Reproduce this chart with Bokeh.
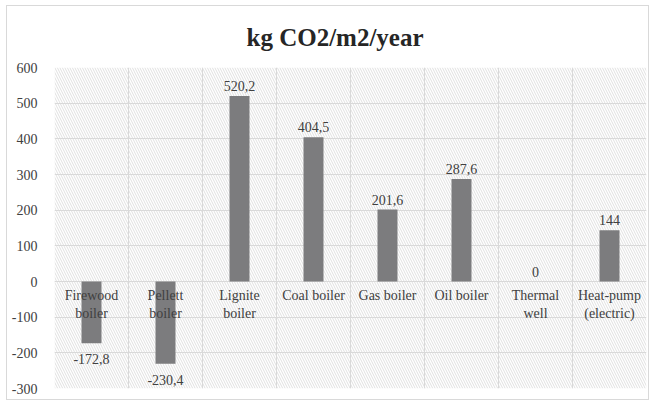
from bokeh.plotting import figure
from bokeh.models import Range1d, FixedTicker, BoxAnnotation, ColumnDataSource
from bokeh.core.properties import value
from bokeh.embed import file_html
from bokeh.resources import INLINE

title = "kg CO2/m2/year"
categories = ["Firewood\nboiler", "Pellett\nboiler", "Lignite\nboiler", "Coal boiler",
              "Gas boiler", "Oil boiler", "Thermal\nwell", "Heat-pump\n(electric)"]
values = [-172.8, -230.4, 520.2, 404.5, 201.6, 287.6, 0, 144]
y_ticks = [-300, -200, -100, 0, 100, 200, 300, 400, 500, 600]


def fmt(v):
    if float(v).is_integer():
        return str(int(v))
    return f"{v:.1f}".replace(".", ",")


FONT = "'Liberation Serif', 'Times New Roman', serif"
TXT = "#404040"

n = len(categories)
xs = [i + 0.5 for i in range(n)]

p = figure(width=643, height=395, output_backend="svg", toolbar_location=None,
           x_range=Range1d(0, n), y_range=Range1d(y_ticks[0], y_ticks[-1]),
           min_border_left=47, min_border_right=4, min_border_top=61, min_border_bottom=13)
p.styles = {"border": "1px solid #d9d9d9", "margin-left": "6px", "margin-top": "5px"}

p.title.text = title
p.title.text_font = FONT
p.title.text_font_size = "25px"
p.title.text_font_style = "bold"
p.title.text_color = "#262626"
p.title.align = "left"
p.title.offset = 192
p.title.vertical_align = "top"
p.title.standoff = 29
p.title.text_line_height = 0.85

p.outline_line_color = None
p.xaxis.visible = False
yax = p.yaxis[0]
yax.ticker = FixedTicker(ticks=y_ticks)
yax.major_label_overrides = {t: str(t) for t in y_ticks}
yax.axis_line_color = None
yax.major_tick_line_color = None
yax.minor_tick_line_color = None
yax.major_label_standoff = 11
yax.major_label_text_font = FONT
yax.major_label_text_font_size = "14px"
yax.major_label_text_color = TXT

p.xgrid.ticker = FixedTicker(ticks=list(range(n + 1)))
p.ygrid.ticker = FixedTicker(ticks=y_ticks)
for g in (p.xgrid[0], p.ygrid[0]):
    g.grid_line_color = "#d9d9d9"
    g.grid_line_width = 1

hatch = BoxAnnotation(left=0, right=n, bottom=y_ticks[0], top=y_ticks[-1],
                      fill_alpha=0, line_color=None, hatch_pattern="\\",
                      hatch_color="#e0e0e0", hatch_scale=5, hatch_weight=1, level="image")
p.add_layout(hatch)

src = ColumnDataSource(dict(x=xs, top=values, cat=categories,
                            lab=[fmt(v) for v in values]))
p.vbar(x="x", top="top", bottom=0, width=0.27, source=src,
       fill_color="#7c7c7e", line_color=None)

pos = ColumnDataSource(dict(x=[x for x, v in zip(xs, values) if v >= 0],
                            y=[v for v in values if v >= 0],
                            t=[fmt(v) for v in values if v >= 0]))
neg = ColumnDataSource(dict(x=[x for x, v in zip(xs, values) if v < 0],
                            y=[v for v in values if v < 0],
                            t=[fmt(v) for v in values if v < 0]))
p.text(x="x", y="y", text="t", source=pos, text_align="center", text_baseline="alphabetic",
       y_offset=-10, text_font=value(FONT), text_font_size="14px", text_color=TXT)
p.text(x="x", y="y", text="t", source=neg, text_align="center", text_baseline="top",
       y_offset=11, text_font=value(FONT), text_font_size="14px", text_color=TXT)

p.text(x="x", y=0, text="cat", source=src, text_align="center", text_baseline="top",
       y_offset=6, text_font=value(FONT), text_font_size="14px", text_color=TXT,
       text_line_height=1.2)

open("out.html", "w").write(file_html(p, INLINE))
